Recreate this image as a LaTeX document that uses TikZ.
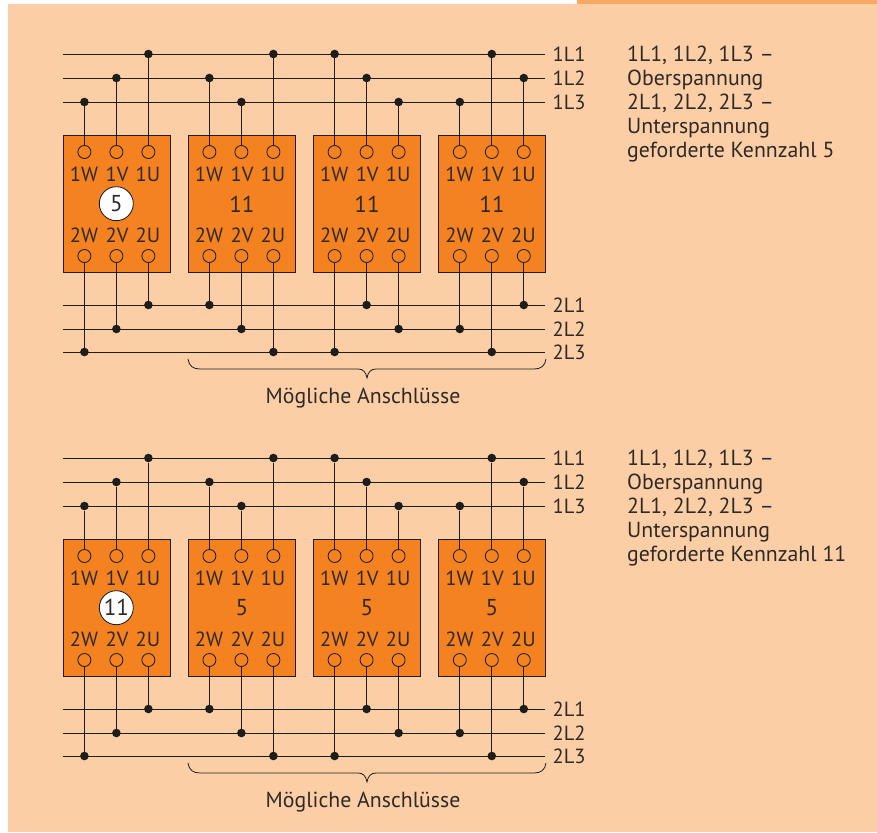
\documentclass[tikz,border=0pt]{standalone}
\usepackage{fontspec}
\setmainfont{PT Sans}
\definecolor{bgc}{HTML}{FCCEA5}
\definecolor{stripc}{HTML}{FBA764}
\definecolor{boxc}{HTML}{F58220}
\definecolor{inkc}{HTML}{1D1D1B}
\definecolor{txtc}{HTML}{2E2A28}
\tikzset{
  wire/.style={draw=inkc,line width=0.85pt},
  term/.style={circle,draw=inkc,line width=0.85pt,fill=boxc,minimum size=13pt,inner sep=0pt},
  junction/.style={circle,fill=inkc,minimum size=8.6pt,inner sep=0pt},
  relay/.style={draw=inkc,line width=0.85pt,fill=boxc,minimum width=107pt,minimum height=137pt,inner sep=0pt,outer sep=0pt},
  lab/.style={text=txtc,font=\fontsize{20.5}{22}\selectfont,inner sep=0pt},
  capt/.style={text=txtc,font=\fontsize{21.8}{24}\selectfont,inner sep=0pt},
  kenn/.style={text=txtc,font=\fontsize{23}{25}\selectfont,inner sep=0pt},
  badge/.style={circle,draw=inkc,line width=0.85pt,fill=white,minimum size=34pt,inner sep=0pt,text=txtc,font=\fontsize{23}{25}\selectfont},
  note/.style={text=txtc,font=\fontsize{21.8}{24}\selectfont,inner sep=0pt,align=left,anchor=base west},
  brace/.style={draw=inkc,line width=0.8pt},
}
\newcommand{\relayunit}[4]{%
  \node[relay,anchor=north west] (#1r#2) at (#3,135) {};
  \foreach \tn/\dx in {W/21.4,V/53.4,U/85.4}{
    \node[term] (#1t#2\tn) at ({#3+\dx},152) {};
    \node[term] (#1b#2\tn) at ({#3+\dx},256) {};
  }
  \foreach \tn/\dx in {W/21,V/54,U/85}{
    \node[lab] at ({#3+\dx},174.7) {1\tn};
    \node[lab] at ({#3+\dx},235.7) {2\tn};
  }
  #4
}
\newcommand{\diagramblock}[5]{%
\begin{scope}[yshift=-#2pt]
  \foreach \bn/\by in {1L1/54,1L2/78,1L3/102,2L1/305,2L2/329,2L3/352}{
    \coordinate (#1s\bn) at (63,\by);
    \coordinate (#1e\bn) at (545,\by);
    \node[lab,anchor=base west] (#1n\bn) at (552.5,\by+7.5) {\bn};
    \draw[wire] (#1s\bn) -- (#1e\bn);
  }
  \relayunit{#1}{A}{63}{\node[badge] at (116.3,203.7) {#3};}
  \relayunit{#1}{B}{188}{\node[kenn] at (241.8,204) {#4};}
  \relayunit{#1}{C}{313.2}{\node[kenn] at (367,204) {#4};}
  \relayunit{#1}{D}{438.4}{\node[kenn] at (492,204) {#4};}
  \foreach \rn/\tn/\by [count=\ji] in {
    A/W/102,A/V/78,A/U/54,
    B/W/78,B/V/102,B/U/54,
    C/W/54,C/V/78,C/U/102,
    D/W/102,D/V/54,D/U/78}{
    \node[junction] (#1jt\ji) at (#1t\rn\tn |- 0,\by) {};
    \draw[wire] (#1jt\ji) -- (#1t\rn\tn);
  }
  \foreach \rn/\tn/\by [count=\ji] in {
    A/W/352,A/V/329,A/U/305,
    B/W/305,B/V/329,B/U/352,
    C/W/352,C/V/305,C/U/329,
    D/W/329,D/V/352,D/U/305}{
    \node[junction] (#1jb\ji) at (#1b\rn\tn |- 0,\by) {};
    \draw[wire] (#1jb\ji) -- (#1b\rn\tn);
  }
  \draw[brace] (188,359) .. controls (189,366) and (193,369) .. (200,369) -- (358,369)
     .. controls (363,369) and (366,372) .. (367,378)
     .. controls (368,372) and (371,369) .. (376,369) -- (534,369)
     .. controls (541,369) and (545,366) .. (546,359);
  \node[capt,anchor=base] (#1cap) at (363,403) {Mögliche Anschlüsse};
  \node[note] (#1note) at (627,157.5) {1L1, 1L2, 1L3 –\\Oberspannung\\2L1, 2L2, 2L3 –\\Unterspannung\\geforderte Kennzahl #5};
\end{scope}
}
\begin{document}
\begin{tikzpicture}[x=1pt,y=-1pt]
  \useasboundingbox (0,0) rectangle (877,832);
  \fill[white] (0,0) rectangle (877,832);
  \fill[bgc] (8,4) rectangle (877,832);
  \fill[stripc] (577,0) rectangle (877,4);
  \diagramblock{u}{0}{5}{11}{5}
  \diagramblock{l}{404}{11}{5}{11}
\end{tikzpicture}
\end{document}
